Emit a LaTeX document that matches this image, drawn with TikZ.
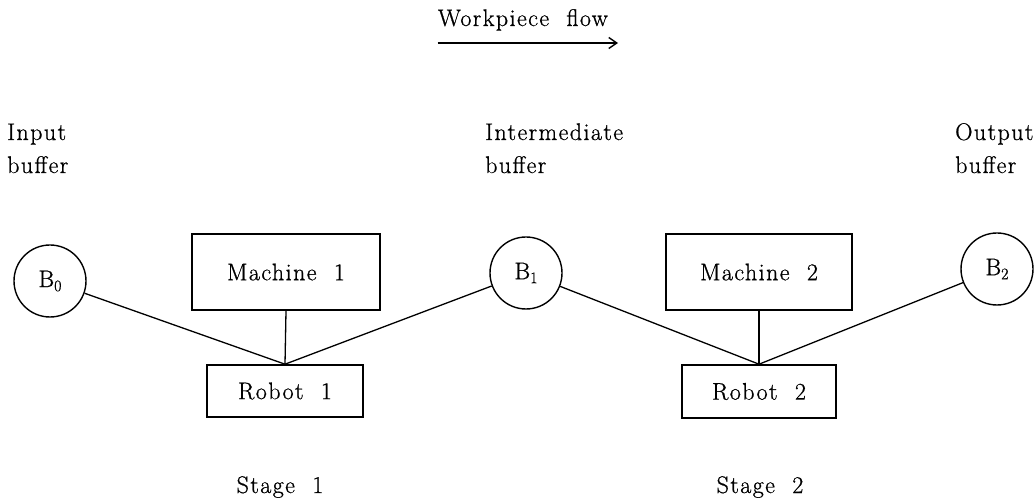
\documentclass[tikz,border=0pt]{standalone}
\usepackage{fontspec}
\setmainfont{Latin Modern Roman}[LetterSpace=6,FakeBold=0.8]
\usetikzlibrary{arrows.meta}
\newcommand{\bsub}[1]{\raisebox{-4pt}{\fontsize{16}{16}\selectfont #1}}
\begin{document}
\begin{tikzpicture}[x=1pt,y=-1pt,
  every node/.style={font=\fontsize{24}{33}\selectfont},
  lbl/.style={inner sep=0pt, align=left},
  buf/.style={draw, circle, line width=1.4pt, minimum size=72pt, inner sep=0pt},
  box/.style={draw, rectangle, line width=1.6pt, inner sep=0pt},
  conn/.style={line width=1.3pt}]
\useasboundingbox (0,0) rectangle (1036,502);
% title and flow arrow
\node[lbl, anchor=base east] (wf) at (608,26) {Workpiece\ \ flow};
\coordinate (a0) at (wf.west |- 0,43);
\coordinate (a1) at (618,43);
\draw[line width=1.4pt, -{Straight Barb[length=8pt,width=11pt]}] (a0) -- (a1);
% buffer labels
\node[lbl, anchor=base west] (ib1) at (7,140) {Input};
\node[lbl, anchor=base west] (ib2) at (7,173) {buffer};
\node[lbl, anchor=base west] (mb1) at (485,140) {Intermediate};
\node[lbl, anchor=base west] (mb2) at (485,173) {buffer};
\node[lbl, anchor=base west] (ob1) at (955,140) {Output};
\node[lbl, anchor=base west] (ob2) at (955,173) {buffer};
% buffers
\node[buf] (B0) at (50,281) {B\bsub{0}};
\node[buf] (B1) at (526,273) {B\bsub{1}};
\node[buf] (B2) at (997,269) {B\bsub{2}};
% machines and robots
\node[box, minimum width=188pt, minimum height=76pt] (M1) at (286,272) {Machine\ \ 1};
\node[box, minimum width=156pt, minimum height=52pt] (R1) at (285,391) {Robot\ \ 1};
\node[box, minimum width=186pt, minimum height=76pt] (M2) at (759,272) {Machine\ \ 2};
\node[box, minimum width=154pt, minimum height=53pt] (R2) at (759,391.5) {Robot\ \ 2};
% connectors
\draw[conn] (B0) -- (R1.north);
\draw[conn] (M1.south) -- (R1.north);
\draw[conn] (B1) -- (R1.north);
\draw[conn] (B1) -- (R2.north);
\draw[conn] (M2.south) -- (R2.north);
\draw[conn] (B2) -- (R2.north);
% stage labels
\node[lbl, anchor=base] (s1) at (280,493) {Stage\ \ 1};
\node[lbl, anchor=base] (s2) at (760,493) {Stage\ \ 2};
\end{tikzpicture}
\end{document}
